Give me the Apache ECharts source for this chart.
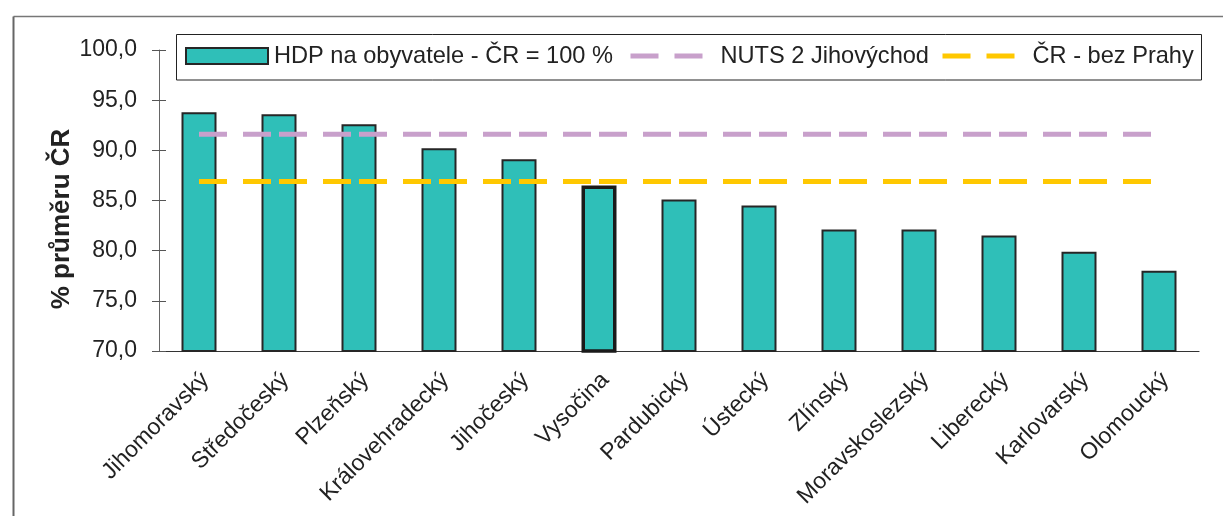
<!DOCTYPE html>
<html>
<head>
<meta charset="utf-8">
<script src="https://cdn.jsdelivr.net/npm/echarts@6/dist/echarts.min.js"></script>
<style>
  html, body { margin: 0; padding: 0; background: #fff; }
  #chart { width: 1223px; height: 516px; }
</style>
</head>
<body>
<div id="chart"></div>
<script>
// kraje ČR seřazené podle HDP na obyvatele
const regions = ['Jihomoravský', 'Středočeský', 'Plzeňský', 'Královehradecký', 'Jihočeský', 'Vysočina',
  'Pardubický', 'Ústecký', 'Zlínský', 'Moravskoslezský', 'Liberecký', 'Karlovarský', 'Olomoucký']
const hdpValues = [93.8, 93.6, 92.6, 90.2, 89.1, 86.5, 85.1, 84.5, 82.1, 82.1, 81.5, 79.9, 78.0]
const nutsJihovychod = [91.6, 91.6, 91.6, 91.6, 91.6, 91.6, 91.6, 91.6, 91.6, 91.6, 91.6, 91.6, 91.6]
const crBezPrahy = [86.9, 86.9, 86.9, 86.9, 86.9, 86.9, 86.9, 86.9, 86.9, 86.9, 86.9, 86.9, 86.9]
const highlighted = 'Vysočina'

const font = 'Liberation Sans, Arial, sans-serif'
const barColor = '#2FBFB8'
const dash = [28, 16, 28, 8]

const barData = hdpValues.map((v, i) => regions[i] === highlighted
  ? { value: v, itemStyle: { borderWidth: 3.5, borderColor: '#1a1a1a' } }
  : v)

const legendText = { fontFamily: font, fontSize: 23.6, color: '#222', lineHeight: 26 }

const chart = echarts.init(document.getElementById('chart'))
chart.setOption({
  animation: false,
  textStyle: { fontFamily: font },
  grid: { left: 159, right: 24, top: 50, bottom: 165, outerBoundsMode: 'none' },
  legend: [
    { data: [{ name: 'HDP na obyvatele - ČR = 100 %', icon: 'rect' }], left: 185, top: 43, padding: 0,
      itemWidth: 82, itemHeight: 16, textStyle: Object.assign({ padding: [0, 0, 0, 1] }, legendText) },
    { data: ['NUTS 2 Jihovýchod'], left: 628, top: 43, padding: 0,
      itemWidth: 72, itemHeight: 16, itemStyle: { opacity: 0 },
      lineStyle: { width: 5, type: dash, cap: 'butt' },
      textStyle: Object.assign({ padding: [0, 0, 0, 13] }, legendText) },
    { data: ['ČR - bez Prahy'], left: 940, top: 43, padding: 0,
      itemWidth: 72, itemHeight: 16, itemStyle: { opacity: 0 },
      lineStyle: { width: 5, type: dash, cap: 'butt' },
      textStyle: Object.assign({ padding: [0, 0, 0, 13] }, legendText) }
  ],
  xAxis: [
    {
      type: 'category', data: regions,
      axisLine: { lineStyle: { color: '#333', width: 1.2 } },
      axisTick: { length: 8, lineStyle: { color: '#555' } },
      axisLabel: { interval: 0, rotate: 45, margin: 19, fontSize: 23, color: '#222', fontFamily: font,
        verticalAlign: 'top', lineHeight: 18 }
    },
    {
      type: 'category', data: regions, position: 'bottom',
      axisLine: { show: false },
      axisTick: { inside: true, length: 8, lineStyle: { color: '#555' } },
      axisLabel: { show: false }
    }
  ],
  yAxis: [
    {
      type: 'value', min: 70, max: 100, interval: 5,
      axisLine: { show: true, lineStyle: { color: '#666' } },
      axisTick: { show: true, length: 7, lineStyle: { color: '#555' } },
      splitLine: { show: false },
      axisLabel: { margin: 22, fontSize: 23, color: '#222', fontFamily: font,
        formatter: v => v.toFixed(1).replace('.', ',') }
    },
    {
      type: 'value', min: 70, max: 100, interval: 5, position: 'left',
      axisLine: { show: false },
      axisTick: { show: true, inside: true, length: 7, lineStyle: { color: '#555' } },
      splitLine: { show: false },
      axisLabel: { show: false }
    }
  ],
  series: [
    {
      name: 'HDP na obyvatele - ČR = 100 %', type: 'bar', data: barData, barWidth: 35,
      itemStyle: { color: barColor, borderColor: '#262626', borderWidth: 2 }
    },
    {
      name: 'NUTS 2 Jihovýchod', type: 'line', data: nutsJihovychod, symbol: 'none', z: 3,
      itemStyle: { color: '#C8A0CB' },
      lineStyle: { color: '#C8A0CB', width: 5, type: dash, cap: 'butt' }
    },
    {
      name: 'ČR - bez Prahy', type: 'line', data: crBezPrahy, symbol: 'none', z: 3,
      itemStyle: { color: '#FFC800' },
      lineStyle: { color: '#FFC800', width: 5, type: dash, cap: 'butt' }
    }
  ],
  graphic: [
    // rámeček grafu
    { type: 'line', shape: { x1: 13.5, y1: 16.5, x2: 1223, y2: 16.5 }, style: { stroke: '#777', lineWidth: 1.5 } },
    { type: 'line', shape: { x1: 13.5, y1: 16.5, x2: 13.5, y2: 516 }, style: { stroke: '#666', lineWidth: 2 } },
    // rámeček legendy
    { type: 'rect', shape: { x: 176.5, y: 34.5, width: 1025, height: 45.5 },
      style: { fill: 'transparent', stroke: '#222', lineWidth: 1 }, z: 1 },
    { type: 'text', x: 62, y: 219, rotation: Math.PI / 2,
      style: { text: '% průměru ČR', font: 'bold 26px ' + font, fill: '#222',
        textAlign: 'center', textVerticalAlign: 'middle' } }
  ]
})
</script>
</body>
</html>
